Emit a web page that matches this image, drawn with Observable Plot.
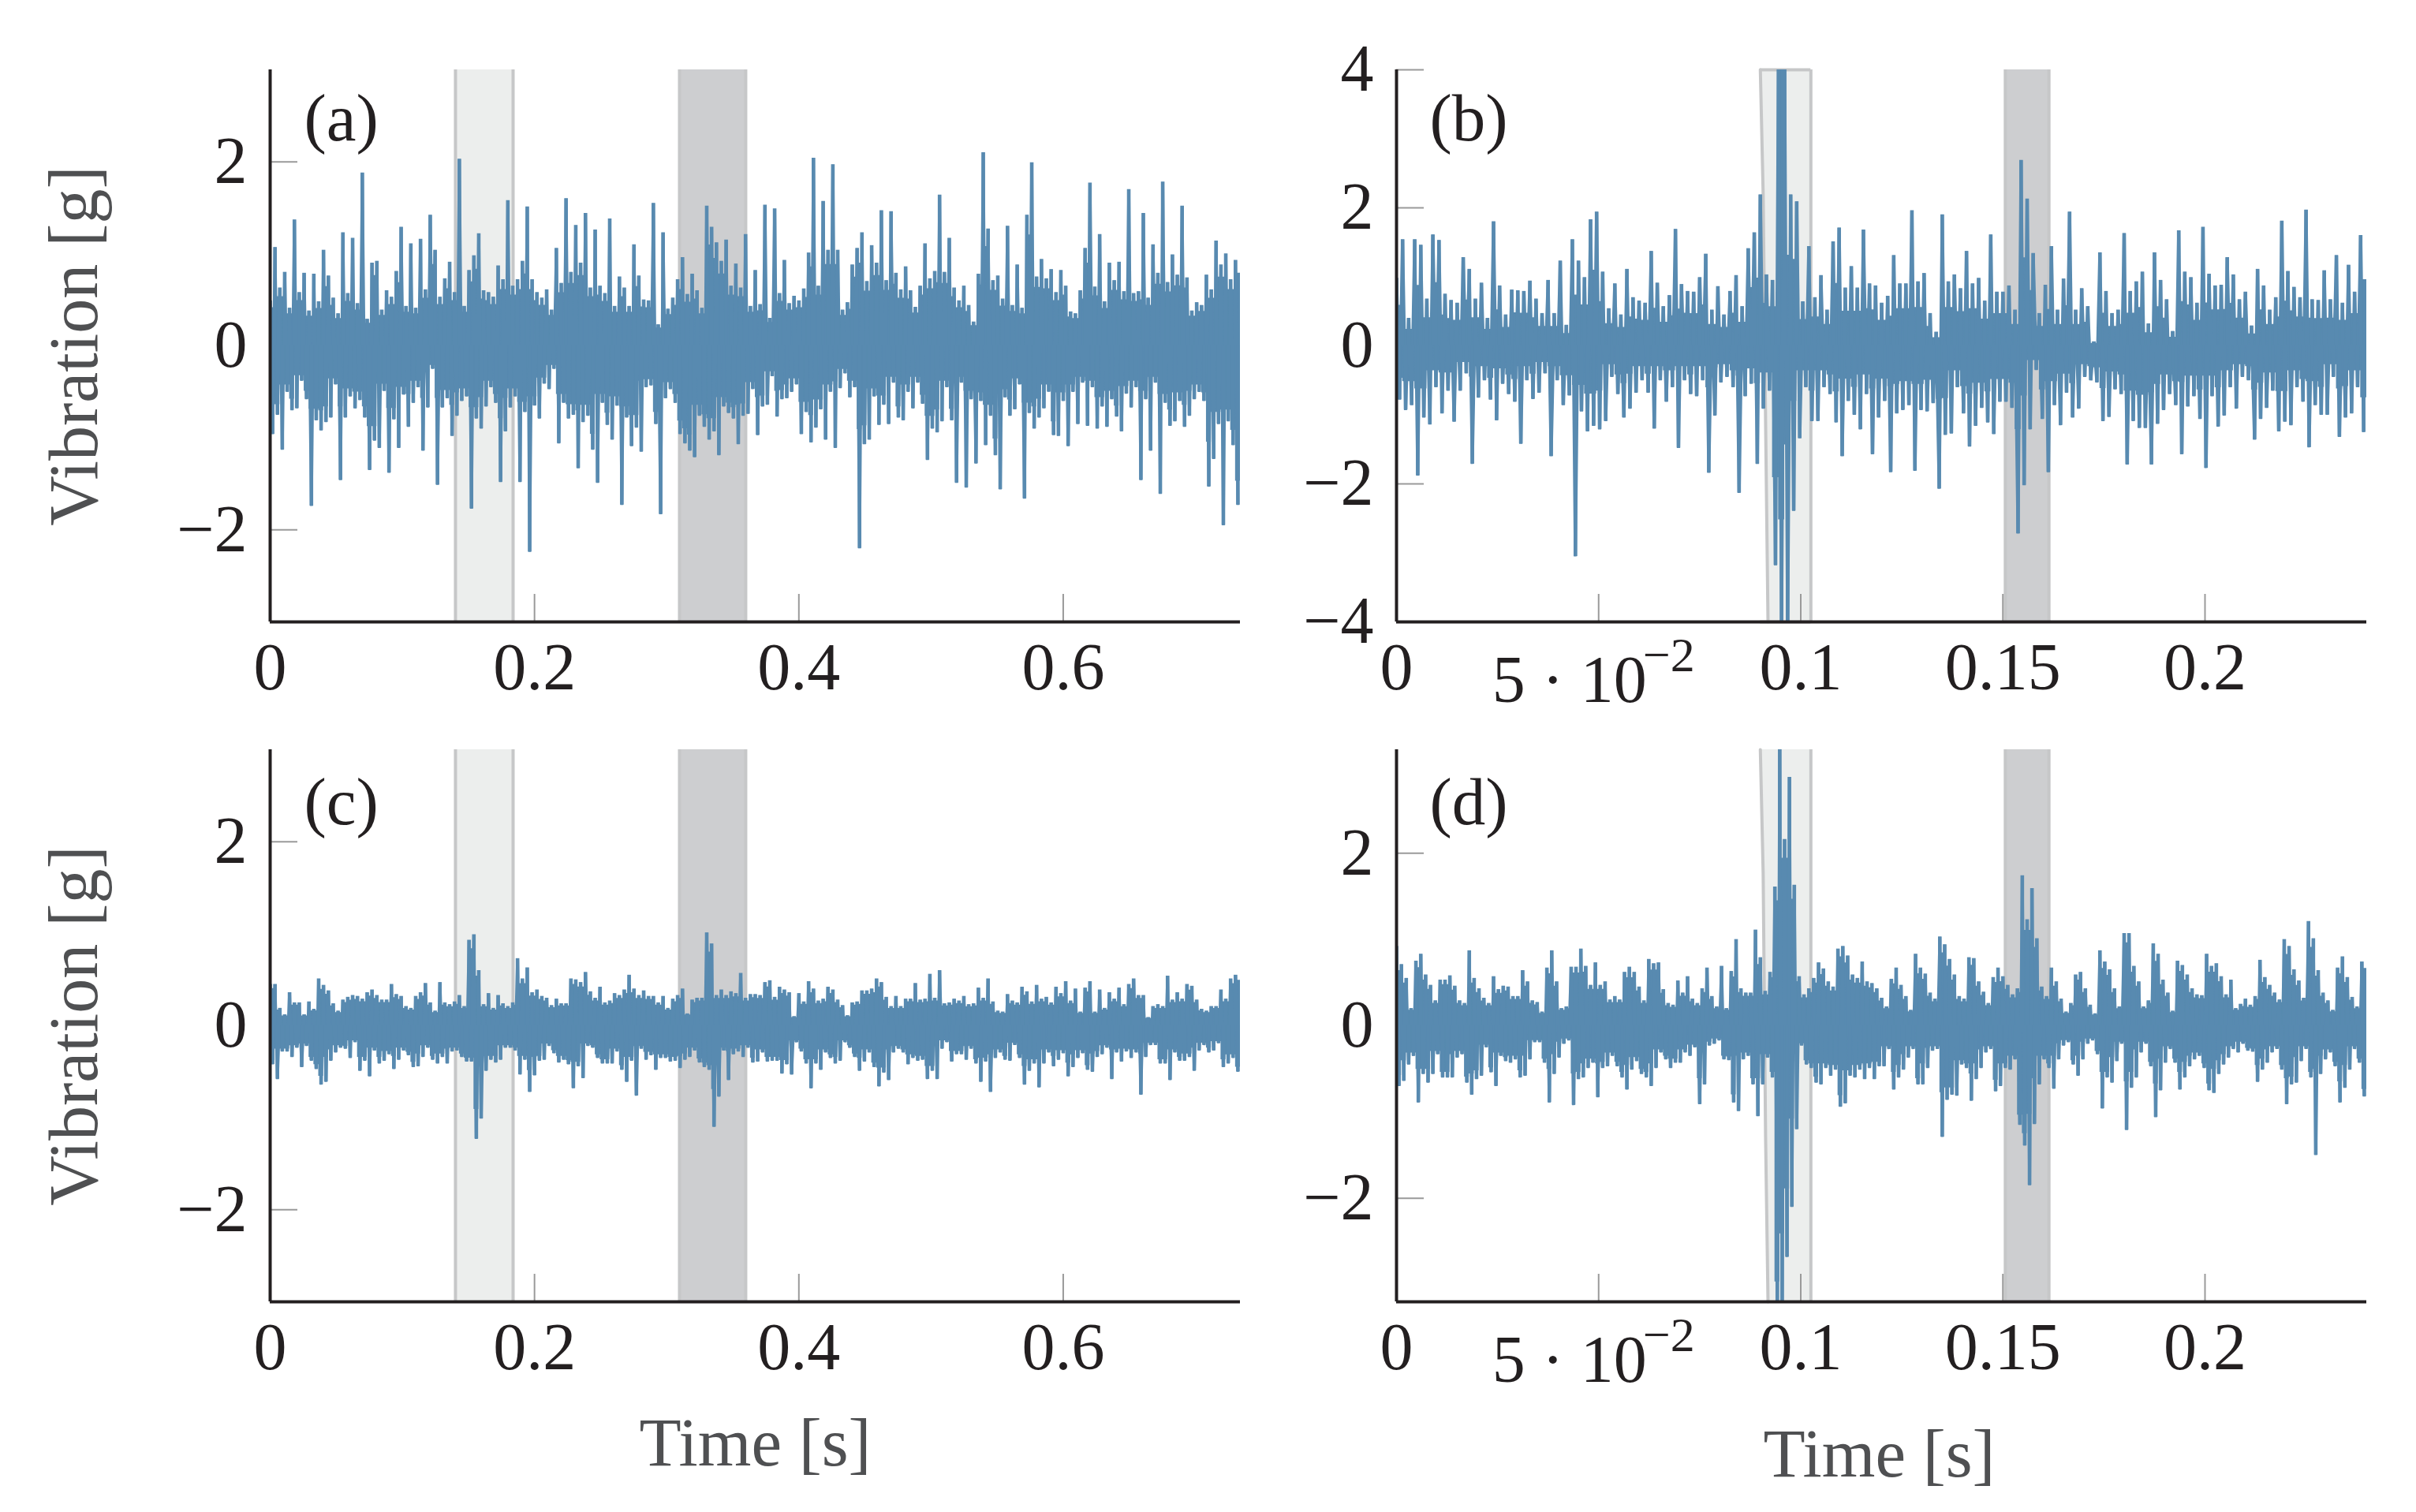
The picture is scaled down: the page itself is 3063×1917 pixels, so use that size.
<!DOCTYPE html>
<html>
<head>
<meta charset="utf-8">
<script src="https://cdn.jsdelivr.net/npm/d3@7"></script>
<script src="https://cdn.jsdelivr.net/npm/@observablehq/plot@0.6"></script>
<style>
html,body{margin:0;padding:0;background:#fff;}
#page{position:relative;width:3063px;height:1917px;overflow:hidden;background:#fff;}
#page svg{position:absolute;overflow:visible;}
</style>
</head>
<body>
<div id="page"></div>
<script>
// Peak values: positive and negative extreme of each successive short slice of time.
const aUpper1=[.49,1.07,.63,.80,.41,1.37,.58,.79,.38,.78,
.48,1.04,.76,.52,.35,1.23,.57,1.17,.46,1.88,
.29,.90,.92,.39,.60,.53,.81,1.29,.43,1.11,
.41,1.16,.61,1.42,1.04,.53,.73,.91,.58,2.03,
.43,.82,.98,1.22,.60,.58,.53,.87,.72,1.58,
.65,.72,.92,1.51,.72,.58,.52,.61,.39,1.06,
.68,1.60,.80,1.31,.90,1.44,.63,1.26,.65,.57,
1.38,.43,.75,.63,.43,1.10,.76,.50,.49,1.55,
.23,1.23,.40,.52,.72,.96,.56,.78,.60,.41,
1.52,1.29,1.12,.92,1.15,.65,.89,.63,1.21,.43];
const aLower1=[-.96,-.75,-1.13,-.50,-.70,-.68,-.38,-.58,-1.74,-.81,
-.92,-.83,-.78,-.42,-1.46,-.78,-.55,-.68,-.59,-.78,
-1.35,-1.03,-1.11,-.49,-1.38,-.80,-1.11,-.53,-.88,-.62,
-.45,-1.14,-.67,-.25,-1.51,-.67,-.57,-.98,-.76,-.60,
-.55,-1.77,-.79,-.90,-.66,-.45,-.62,-1.48,-.93,-.67,
-.55,-1.48,-.72,-2.24,-.65,-.79,-.41,-.47,-.25,-1.06,
-.62,-.79,-.75,-1.33,-.83,-.76,-1.13,-1.49,-.62,-.86,
-1.02,-.65,-1.73,-.78,-1.09,-.89,-1.15,-.45,-.43,-.85,
-1.83,-.57,-.47,-.62,-.96,-1.06,-1.14,-1.21,-.76,-.88,
-1.02,-.93,-1.19,-.66,-.73,-.79,-1.07,-.76,-.74,-.47];
const aUpper2=[.82,.45,1.53,.30,1.49,.57,.93,.46,.54,.49,
.62,1.01,2.04,.65,1.57,1.04,1.97,1.04,.39,.47,
.88,1.06,1.23,.70,1.09,.90,1.47,.71,1.46,.79,
.61,.86,.60,.42,.65,1.11,.73,.81,1.64,.80,
1.17,.63,.49,.65,.44,.26,.78,2.10,1.27,.71,
.76,.51,1.30,.44,.88,.41,1.42,1.99,.75,.94,
.73,.83,.58,.82,.65,.37,.35,.60,1.06,1.77,
.64,1.21,.48,.90,.71,.91,.59,1.70,.57,.59,
1.44,.52,1.10,.79,1.78,.69,.99,.77,1.52,.74,
.38,.47,.44,.77,.61,1.14,.88,1.00,.72,.93];
const aLower2=[-.97,-.66,-.64,-.33,-.77,-.58,-.57,-.50,-.42,-.96,
-.72,-1.05,-.89,-.69,-1.02,-.50,-1.11,-.46,-.30,-.56,
-.45,-2.20,-1.07,-1.02,-.55,-.86,-.64,-.85,-.40,-.78,
-.81,-.50,-.68,-.40,-.63,-1.24,-.90,-.94,-.82,-.45,
-.81,-1.49,-.40,-1.54,-.58,-1.28,-.60,-1.08,-.76,-1.19,
-1.56,-.56,-.76,-.69,-.42,-1.66,-.73,-.90,-.78,-.68,
-.50,-.97,-.98,-.60,-1.09,-.50,-.85,-.40,-.87,-.45,
-.90,-.66,-.88,-.58,-.77,-.93,-.52,-.67,-.45,-1.46,
-.58,-1.14,-.40,-1.61,-.62,-.87,-.82,-.60,-.88,-.76,
-.58,-.50,-.60,-1.53,-1.23,-.85,-1.95,-.82,-1.08,-1.73];

const bUpper1=[.98,1.54,.40,1.54,1.46,.68,1.61,1.53,.75,.66,
.62,1.28,1.11,.68,.91,.40,1.80,.87,.45,.81,
.80,.79,.94,.68,.47,.95,.47,1.23,.30,1.54,
1.23,.99,1.83,1.94,1.07,.54,.90,.45,1.11,.70,
.65,.62,1.37,.91,.57,.73,1.69,.89,.79,.78,
.99,1.33,.52,.86,.45,.79,1.02,.57,1.41,1.64,
2.19,1.03,.95,4.2,4.2,2.19,2.09,.64,1.44,.70,
1.02,.52,1.51,1.71,.84,1.15,.84,1.68,.90,.87];
const bLower1=[-.78,-.93,-.86,-1.88,-1.04,-1.14,-.60,-.98,-.65,-1.10,
-.65,-.40,-1.71,-.75,-.50,-.78,-1.08,-.55,-.70,-.81,
-1.42,-.50,-.77,-.68,-.40,-1.60,-.50,-.86,-.72,-3.05,
-.95,-1.24,-1.16,-1.21,-1.09,-.45,-.70,-1.04,-.91,-.68,
-.50,-.68,-1.20,-.50,-.81,-.60,-1.48,-.50,-.70,-.73,
-.50,-1.84,-1.01,-.53,-.45,-.60,-2.13,-.73,-.55,-1.71,
-.91,-.65,-3.18,-4.2,-4.2,-2.39,-1.34,-.60,-1.09,-1.09,
-.60,-.70,-1.11,-1.60,-.80,-1.0,-1.21,-.70,-1.57,-1.04];
const bUpper2=[.62,.72,1.31,.90,.90,1.96,.93,1.05,.47,.20,
1.90,.93,1.03,.83,1.37,.90,.98,.65,1.61,.78,
.78,.87,.52,2.69,2.13,1.34,.47,.88,1.44,.52,
.97,1.94,.52,.83,.57,.06,1.35,.79,.47,.52,
1.63,.79,.93,1.07,.32,1.35,.95,.67,.21,1.67,
1.07,.99,.62,1.72,1.04,.87,.88,1.28,1.03,.67,
.78,.29,1.11,.87,.52,.70,1.81,1.08,.85,.70,
1.97,.67,.66,1.09,.67,1.31,.62,1.17,.78,1.60];
const bLower2=[-.80,-1.83,-.98,-.93,-.86,-1.81,-.93,-.95,-.83,-2.07,
-1.29,-1.27,-.60,-.98,-1.46,-1.16,-.90,-1.11,-1.28,-.81,
-.81,-.90,-2.72,-2.02,-1.21,-.35,-1.06,-1.83,-.86,-1.15,
-.68,-1.04,-.91,-.45,-.50,-.53,-1.09,-1.03,-.63,-.70,
-1.72,-1.09,-1.19,-1.19,-1.72,-1.13,-.93,-.70,-.86,-1.57,
-.88,-.73,-1.06,-1.77,-.73,-1.17,-1.01,-.60,-.91,-.45,
-.50,-1.36,-1.06,-.90,-.65,-1.24,-1.10,-1.15,-.60,-.81,
-1.47,-.86,-1.0,-1.0,-.45,-1.32,-1.04,-.98,-.60,-1.25];

const cUpper1=[.45,.45,.19,.12,.36,.25,.25,.12,.26,.18,
.51,.44,.38,.24,.16,.28,.31,.33,.32,.29,
.36,.39,.33,.28,.28,.45,.34,.32,.21,.19,
.32,.36,.46,.25,.16,.47,.25,.23,.26,.33,
.21,.93,.99,.60,.23,.35,.19,.33,.24,.21,
.25,.73,.51,.63,.36,.39,.32,.30,.22,.29,
.24,.24,.51,.50,.47,.58,.37,.30,.42,.25,
.27,.35,.33,.39,.55,.40,.33,.38,.32,.32,
.25,.32,.19,.29,.33,.40,.13,.28,.30,.30,
1.01,.89,.33,.39,.33,.37,.35,.57,.30,.34];
const cLower1=[-.42,-.58,-.28,-.28,-.34,-.24,-.45,-.22,-.38,-.47,
-.64,-.61,-.38,-.29,-.24,-.25,-.35,-.18,-.49,-.38,
-.55,-.27,-.41,-.38,-.31,-.47,-.37,-.27,-.32,-.45,
-.44,-.34,-.24,-.37,-.41,-.34,-.41,-.28,-.27,-.34,
-.39,-.39,-1.23,-1.01,-.49,-.37,-.40,-.37,-.24,-.24,
-.27,-.53,-.37,-.72,-.54,-.38,-.37,-.22,-.30,-.40,
-.37,-.42,-.68,-.44,-.57,-.22,-.24,-.35,-.41,-.41,
-.41,-.28,-.48,-.61,-.38,-.76,-.25,-.37,-.32,-.48,
-.35,-.35,-.39,-.38,-.46,-.37,-.34,-.27,-.40,-.45,
-.48,-1.10,-.77,-.27,-.59,-.31,-.28,-.34,-.24,-.40];
const cUpper2=[.34,.33,.47,.49,.31,.42,.39,.36,.10,.35,
.26,.48,.40,.27,.29,.42,.39,.28,.22,.11,
.25,.26,.38,.38,.40,.51,.47,.31,.21,.32,
.21,.29,.29,.46,.28,.29,.56,.30,.60,.24,
.25,.29,.27,.32,.23,.24,.41,.30,.51,.26,
.16,.15,.34,.27,.25,.42,.37,.26,.44,.29,
.31,.25,.42,.35,.48,.27,.40,.15,.41,.48,
.15,.39,.19,.36,.29,.41,.23,.45,.51,.33,
.33,.09,.21,.23,.21,.54,.28,.36,.29,.45,
.43,.28,.18,.16,.21,.21,.39,.29,.51,.55];
const cLower2=[-.39,-.29,-.39,-.38,-.38,-.52,-.42,-.53,-.18,-.28,
-.41,-.68,-.41,-.48,-.29,-.35,-.41,-.38,-.18,-.24,
-.34,-.49,-.39,-.29,-.45,-.66,-.51,-.59,-.29,-.25,
-.29,-.42,-.35,-.38,-.37,-.58,-.49,-.58,-.25,-.18,
-.39,-.31,-.31,-.37,-.25,-.41,-.61,-.39,-.72,-.35,
-.29,-.37,-.38,-.21,-.35,-.64,-.49,-.41,-.67,-.41,
-.29,-.44,-.37,-.30,-.55,-.45,-.35,-.30,-.48,-.50,
-.34,-.31,-.24,-.58,-.29,-.39,-.28,-.35,-.29,-.75,
-.34,-.21,-.21,-.41,-.41,-.59,-.29,-.38,-.38,-.34,
-.49,-.27,-.21,-.29,-.27,-.19,-.45,-.41,-.35,-.50];

const dUpper1=[.92,.71,.55,.20,.75,.83,.59,.47,.29,.53,
.53,.58,.46,.29,.26,.87,.55,.43,.32,.26,
.57,.42,.46,.45,.34,.34,.64,.51,.29,.27,
.16,.67,.87,.51,.20,.22,.68,.68,.89,.69,
.47,.73,.47,.51,.30,.34,.30,.62,.68,.62,
.45,.29,.77,.72,.73,.42,.26,.24,.52,.38,
.57,.31,.26,.43,.67,.34,.22,.69,.20,.63,
1.0,.43,.38,.38,1.11,.79,.40,.62,1.61,3.3,
2.16,2.88,1.63,.57,.36,.43,.55,.73,.66,.51,
.45,.89,.92,.81,.59,.55,.74,.51,.49,.43];
const dLower1=[-.70,-.64,-.45,-.35,-.89,-.56,-.66,-.56,-.33,-.60,
-.60,-.60,-.37,-.33,-.66,-.80,-.62,-.58,-.25,-.54,
-.70,-.35,-.41,-.43,-.39,-.60,-.58,-.39,-.19,-.19,
-.43,-.89,-.56,-.37,-.21,-.17,-.92,-.62,-.60,-.49,
-.43,-.83,-.49,-.47,-.35,-.47,-.60,-.74,-.51,-.41,
-.56,-.60,-.70,-.49,-.31,-.39,-.49,-.43,-.43,-.31,
-.35,-.25,-.91,-.68,-.23,-.21,-.17,-.39,-.40,-.89,
-.99,-.39,-.35,-.68,-1.05,-.68,-.37,-.60,-3.3,-3.3,
-2.68,-2.1,-1.2,-.23,-.45,-.49,-.66,-.68,-.49,-.58,
-.51,-.94,-.90,-.58,-.60,-.51,-.62,-.49,-.62,-.47];
const dUpper2=[.32,.22,.54,.67,.47,.34,.18,.83,.67,.60,
.38,.31,1.03,.94,.77,.59,.34,.31,.79,.78,
.51,.39,.26,.56,.67,.57,.47,.36,.43,1.74,
1.23,1.59,1.01,.45,.34,.67,.51,.31,.16,.26,
.59,.62,.43,.24,.14,.87,.74,.65,.43,.22,
1.07,1.07,.69,.51,.22,.29,.95,.83,.53,.38,
.17,.75,.70,.59,.43,.36,.35,.83,.69,.72,
.57,.36,.53,.20,.25,.31,.24,.34,.76,.56,
.47,.38,.30,1.00,.92,.65,.52,.32,1.21,1.01,
.64,.38,.29,.18,.67,.80,.56,.33,.22,.74];
const dLower2=[-.47,-.27,-.74,-.60,-.51,-.37,-.27,-.68,-.68,-.49,
-.29,-.27,-1.29,-.86,-.80,-.81,-.45,-.49,-.87,-.62,
-.49,-.31,-.27,-.76,-.70,-.49,-.51,-.39,-1.15,-1.39,
-1.85,-1.14,-.68,-.39,-.49,-.73,-.39,-.23,-.19,-.45,
-.58,-.39,-.21,-.17,-.33,-.96,-.60,-.66,-.41,-.21,
-1.21,-.72,-.60,-.31,-.21,-.47,-1.06,-.75,-.43,-.27,
-.43,-.74,-.60,-.47,-.39,-.35,-.49,-.75,-.78,-.56,
-.45,-.37,-.27,-.31,-.21,-.29,-.30,-.65,-.51,-.43,
-.31,-.27,-.51,-.91,-.68,-.66,-.41,-.27,-.60,-1.50,
-.56,-.39,-.31,-.47,-.89,-.72,-.51,-.27,-.43,-.82];

// Shaded time windows, in seconds
const longLight=[.1402,.1838], longDark=[.3097,.3598];
const shortDark=[.1506,.1614], shortLightRight=.1025;
const shortLightLeftEdge=[.0900,.0907,.0913,.0919];
const bEdgeY=[4,2.2,-1.1,-4], dEdgeY=[3.2,1.77,-1.29,-3.2];

const longTicks=[0,.2,.4,.6], longLabels=[0,.2,.4,.6];
const shortTicks=[0,.05,.1,.15,.2], shortLabels=[0,.1,.15,.2];

const INK="#231f20", GREY="#4f5052", TICK="#9a9a9a", LINE="#588ab0";
const EDGE="#c6c7c8", LIGHT="#eceeed", DARK="#cdced0";
const FONT="'Liberation Serif', serif";

// Each slice gives one rise and one fall; the part both neighbouring slices share is solid in the picture.
function signal(uppers, lowers, span, solid){
  const u=uppers.flat(), l=lowers.flat(), n=Math.min(u.length,l.length);
  const rows=[], bars=[], core=[];
  for(let k=0;k<n;k++){
    const t0=span*k/n, t1=span*(k+.5)/n;
    rows.push({t:t0,v:u[k]},{t:t1,v:l[k]});
    bars.push({t:t0,a:0,b:u[k]},{t:t1,a:0,b:l[k]});
    const nu=k+1<n?u[k+1]:u[k], nl=k+1<n?l[k+1]:l[k];
    const shared=Math.min(u[k],nu);
    core.push({t:t0,hi:shared>3?shared:solid*shared,lo:solid*Math.max(l[k],nl)});
  }
  core.push({t:span,hi:core[n-1].hi,lo:core[n-1].lo});
  return {rows,bars,core};
}
const fmt=d=>d<0?"\u2212"+(-d):String(d);

function panel(o){
  const W=1230,H=700;
  const [lo,hi]=o.yDomain;
  const slanted=o.edge?o.edge.t.map((t,i)=>({t,y:o.edge.y[i],r:shortLightRight})):null;
  const marks=[];
  if(slanted){
    marks.push(Plot.areaX(slanted,{x1:"t",x2:"r",y:"y",fill:LIGHT,curve:"linear"}));
    marks.push(Plot.line(slanted,{x:"t",y:"y",stroke:EDGE,strokeWidth:4,curve:"linear"}));
    marks.push(Plot.ruleX([shortLightRight],{stroke:EDGE,strokeWidth:4}));
    if(o.boxed) marks.push(Plot.ruleY([hi,lo],{x1:slanted[0].t,x2:shortLightRight,stroke:EDGE,strokeWidth:4}));
  } else {
    marks.push(Plot.rect([o.light],{x1:d=>d[0],x2:d=>d[1],y1:lo,y2:hi,fill:LIGHT}));
    marks.push(Plot.ruleX(o.light,{stroke:EDGE,strokeWidth:4}));
  }
  marks.push(Plot.rect([o.dark],{x1:d=>d[0],x2:d=>d[1],y1:lo,y2:hi,fill:DARK}));
  marks.push(Plot.ruleX(o.dark,{stroke:EDGE,strokeWidth:4}));
  marks.push(Plot.tickX(o.xTicks,{x:d=>d,stroke:TICK,strokeWidth:2,insetTop:H-35}));
  marks.push(Plot.tickY(o.yTicks,{y:d=>d,stroke:TICK,strokeWidth:2,insetRight:W-35}));
  marks.push(Plot.areaY(o.signal.core,{x:"t",y1:"lo",y2:"hi",fill:LINE,curve:"step-after",clip:"frame"}));
  marks.push(Plot.line(o.signal.rows,{x:"t",y:"v",stroke:LINE,strokeWidth:o.lineWidth,strokeLinejoin:"bevel",strokeLinecap:"butt",curve:"linear",clip:"frame"}));
  marks.push(Plot.ruleX(o.signal.bars,{x:"t",y1:"a",y2:"b",stroke:LINE,strokeWidth:o.barWidth,strokeLinecap:"butt",clip:"frame"}));
  marks.push(Plot.ruleX([0],{stroke:INK,strokeWidth:4}));
  marks.push(Plot.ruleY([lo],{stroke:INK,strokeWidth:4}));
  marks.push(Plot.axisY({ticks:o.yTicks,tickSize:0,tickPadding:29,tickFormat:fmt,fontSize:84,fill:INK,label:null,stroke:"none"}));
  marks.push(Plot.axisX({ticks:o.xLabels,tickSize:0,tickPadding:26,tickFormat:fmt,fontSize:84,fill:INK,label:null,stroke:"none"}));
  marks.push(Plot.text([o.tag],{frameAnchor:"top-left",dx:o.tagDx,dy:o.tagDy,fontSize:85,fill:INK,lineAnchor:"bottom",textAnchor:"start"}));
  if(o.sci){
    marks.push(Plot.text(["5 \u00b7 10"],{x:[.05],frameAnchor:"bottom",dx:61,dy:101,fontSize:84,fill:INK,textAnchor:"end",lineAnchor:"bottom"}));
    marks.push(Plot.text(["\u22122"],{x:[.05],frameAnchor:"bottom",dx:56,dy:62,fontSize:62,fill:INK,textAnchor:"start",lineAnchor:"bottom"}));
  }
  if(o.ylabel) marks.push(Plot.text(["Vibration [g]"],{frameAnchor:"left",rotate:-90,dx:-248,fontSize:88,fill:GREY,textAnchor:"middle"}));
  if(o.xlabelDy) marks.push(Plot.text(["Time [s]"],{frameAnchor:"bottom",dx:o.xlabelDx||0,dy:o.xlabelDy,fontSize:87,fill:GREY,lineAnchor:"bottom"}));
  const svg=Plot.plot({
    width:o.ml+W+o.mr,height:88+H+o.mb,
    marginLeft:o.ml,marginRight:o.mr,marginTop:88,marginBottom:o.mb,
    style:{fontFamily:FONT,background:"transparent",overflow:"visible"},
    x:{domain:[0,o.span],axis:null},y:{domain:[lo,hi],axis:null},
    marks
  });
  svg.style.left=o.left+"px"; svg.style.top=o.top+"px";
  document.getElementById("page").appendChild(svg);
}

panel({tag:"(a)",left:0,top:0,ml:342,mr:58,mb:132,span:.734,yDomain:[-3,3],yTicks:[-2,0,2],xTicks:longTicks,xLabels:longLabels,
  light:longLight,dark:longDark,signal:signal([aUpper1,aUpper2],[aLower1,aLower2],.734,.85),lineWidth:3.7,barWidth:4.6,tagDx:43,tagDy:89,ylabel:true});
panel({tag:"(b)",left:1630,top:0,ml:140,mr:63,mb:132,span:.24,yDomain:[-4,4],yTicks:[-4,-2,0,2,4],xTicks:shortTicks,xLabels:shortLabels,
  edge:{t:shortLightLeftEdge,y:bEdgeY},boxed:true,dark:shortDark,signal:signal([bUpper1,bUpper2],[bLower1,bLower2],.24,.6),lineWidth:4,barWidth:4.6,tagDx:42,tagDy:89,sci:true});
panel({tag:"(c)",left:0,top:862,ml:342,mr:58,mb:267,span:.734,yDomain:[-3,3],yTicks:[-2,0,2],xTicks:longTicks,xLabels:longLabels,
  light:longLight,dark:longDark,signal:signal([cUpper1,cUpper2],[cLower1,cLower2],.734,.9),lineWidth:3.7,barWidth:4.6,tagDx:43,tagDy:94,ylabel:true,xlabelDy:207});
panel({tag:"(d)",left:1630,top:862,ml:140,mr:63,mb:267,span:.24,yDomain:[-3.2,3.2],yTicks:[-2,0,2],xTicks:shortTicks,xLabels:shortLabels,
  edge:{t:shortLightLeftEdge,y:dEdgeY},boxed:false,dark:shortDark,signal:signal([dUpper1,dUpper2],[dLower1,dLower2],.24,.9),lineWidth:3.7,barWidth:4.6,tagDx:42,tagDy:94,sci:true,xlabelDy:221,xlabelDx:-3});
</script>
</body>
</html>
